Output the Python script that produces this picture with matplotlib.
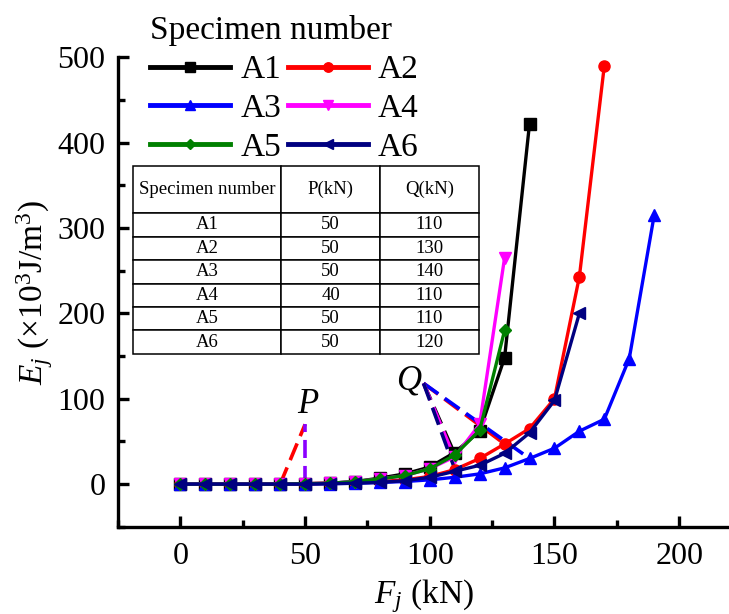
import matplotlib
matplotlib.use("Agg")
import matplotlib.pyplot as plt
from matplotlib.ticker import MultipleLocator

plt.rcParams['font.family'] = ['Liberation Serif', 'DejaVu Serif']
plt.rcParams['mathtext.fontset'] = 'custom'
plt.rcParams['mathtext.rm'] = 'Liberation Serif'
plt.rcParams['mathtext.it'] = 'Liberation Serif:italic'

# load steps (kN) and energy (x10^3 J/m^3) per specimen
F_A1 = [0, 10, 20, 30, 40, 50, 60, 70, 80, 90, 100, 110, 120, 130, 140]
E_A1 = [0, 0, 0, 0, 0, 0.5, 1, 3, 7, 12, 20, 37, 62, 148, 422]
F_A2 = [0, 10, 20, 30, 40, 50, 60, 70, 80, 90, 100, 110, 120, 130, 140, 150, 160, 170]
E_A2 = [0, 0, 0, 0, 0, 0.5, 1, 2, 3, 5, 9, 17, 30, 47, 65, 100, 243, 490]
F_A3 = [0, 10, 20, 30, 40, 50, 60, 70, 80, 90, 100, 110, 120, 130, 140, 150, 160, 170, 180, 190]
E_A3 = [0, 0, 0, 0, 0, 0, 0.5, 1, 2, 3, 5, 8, 12, 19, 30, 42, 62, 76, 147, 315]
F_A4 = [0, 10, 20, 30, 40, 50, 60, 70, 80, 90, 100, 110, 120, 130]
E_A4 = [0, 0, 0, 0, 0, 0.5, 1, 3, 6, 10, 18, 32, 70, 265]
F_A5 = [0, 10, 20, 30, 40, 50, 60, 70, 80, 90, 100, 110, 120, 130]
E_A5 = [0, 0, 0, 0, 0, 0.5, 1, 3, 6, 10, 18, 34, 63, 180]
F_A6 = [0, 10, 20, 30, 40, 50, 60, 70, 80, 90, 100, 110, 120, 130, 140, 150, 160]
E_A6 = [0, 0, 0, 0, 0, 0, 0.5, 1, 2, 4, 8, 15, 22, 36, 60, 98, 200]

# P / Q marker lines
P_apex = (50, 70)
P_lines = [('red', (40, 0)), ('#8a00ff', (50, 0))]
Q_apex = (97.5, 118)
Q_lines = [('red', (130, 47)), ('blue', (140, 30)), ('black', (110, 35)),
           ('magenta', (110, 30)), ('navy', (110, 18))]

table_cols = ['Specimen number', 'P(kN)', 'Q(kN)']
table_rows = [['A1', '50', '110'], ['A2', '50', '130'], ['A3', '50', '140'],
              ['A4', '40', '110'], ['A5', '50', '110'], ['A6', '50', '120']]

fig = plt.figure(figsize=(7.29, 6.14), dpi=100)
ax = fig.add_axes([0.162, 0.142, 0.838, 0.765])

# dashed helper lines first so curves sit on top
dash = (0, (5, 2.2))
for color, end in P_lines:
    ax.plot([end[0], P_apex[0]], [end[1], P_apex[1]], color=color, lw=2.6,
            linestyle=dash, zorder=1)
for color, end in Q_lines:
    ax.plot([Q_apex[0], end[0]], [Q_apex[1], end[1]], color=color, lw=2.6,
            linestyle=dash, zorder=1)

kw = dict(lw=2.4, ms=8)
l1, = ax.plot(F_A1, E_A1, color='black', marker='s', label='A1', **kw)
l2, = ax.plot(F_A2, E_A2, color='red', marker='o', label='A2', **kw)
l3, = ax.plot(F_A3, E_A3, color='blue', marker='^', label='A3', **kw)
l4, = ax.plot(F_A4, E_A4, color='magenta', marker='v', label='A4', **kw)
l5, = ax.plot(F_A5, E_A5, color='green', marker='D', label='A5', lw=2.4, ms=6.5)
l6, = ax.plot(F_A6, E_A6, color='navy', marker='<', label='A6', **kw)

ax.text(51, 83, 'P', fontsize=25, style='italic', ha='center', va='baseline')
ax.text(91.5, 111, 'Q', fontsize=25, style='italic', ha='center', va='baseline')

ax.set_xlim(-25, 220)
ax.set_ylim(-50, 500)
ax.xaxis.set_major_locator(MultipleLocator(50))
ax.xaxis.set_minor_locator(MultipleLocator(25))
ax.yaxis.set_major_locator(MultipleLocator(100))
ax.yaxis.set_minor_locator(MultipleLocator(50))
ax.spines['top'].set_visible(False)
ax.spines['right'].set_visible(False)
for s in ['left', 'bottom']:
    ax.spines[s].set_linewidth(2.4)
ax.tick_params(which='major', direction='in', length=8, width=2.4, labelsize=23)
ax.tick_params(axis='x', which='major', pad=11)
ax.tick_params(axis='y', which='major', pad=9)
ax.tick_params(which='minor', direction='in', length=5, width=2.4)

ax.set_xlabel(r'$F_j$ (kN)', fontsize=24, labelpad=4)
ax.set_ylabel(r'$E_j$ ($\times$10$^3$J/m$^3$)', fontsize=24, labelpad=2)

# row-wise order like the original: A1 A2 / A3 A4 / A5 A6
handles = [l1, l3, l5, l2, l4, l6]
leg = fig.legend(handles, [h.get_label() for h in handles], title='Specimen number',
                 ncol=2, loc='upper left', bbox_to_anchor=(0.206, 0.975),
                 frameon=False, fontsize=24, title_fontsize=24, handlelength=2.4,
                 handletextpad=0.3, columnspacing=0.2, labelspacing=0.25,
                 borderpad=0, borderaxespad=0, markerscale=0.85)
leg._legend_box.align = 'left'
for h in leg.legend_handles:
    h.set_linewidth(3.5)

tbl = ax.table(cellText=table_rows, colLabels=table_cols, cellLoc='center',
               bbox=[0.0245, 0.368, 0.566, 0.4], colWidths=[0.428, 0.286, 0.286])
tbl.auto_set_font_size(False)
tbl.set_fontsize(13.5)
for (r, c), cell in tbl.get_celld().items():
    cell.set_linewidth(1.1)
    if r == 0:
        cell.set_height(cell.get_height() * 2)

plt.savefig('out.png', dpi=100)
